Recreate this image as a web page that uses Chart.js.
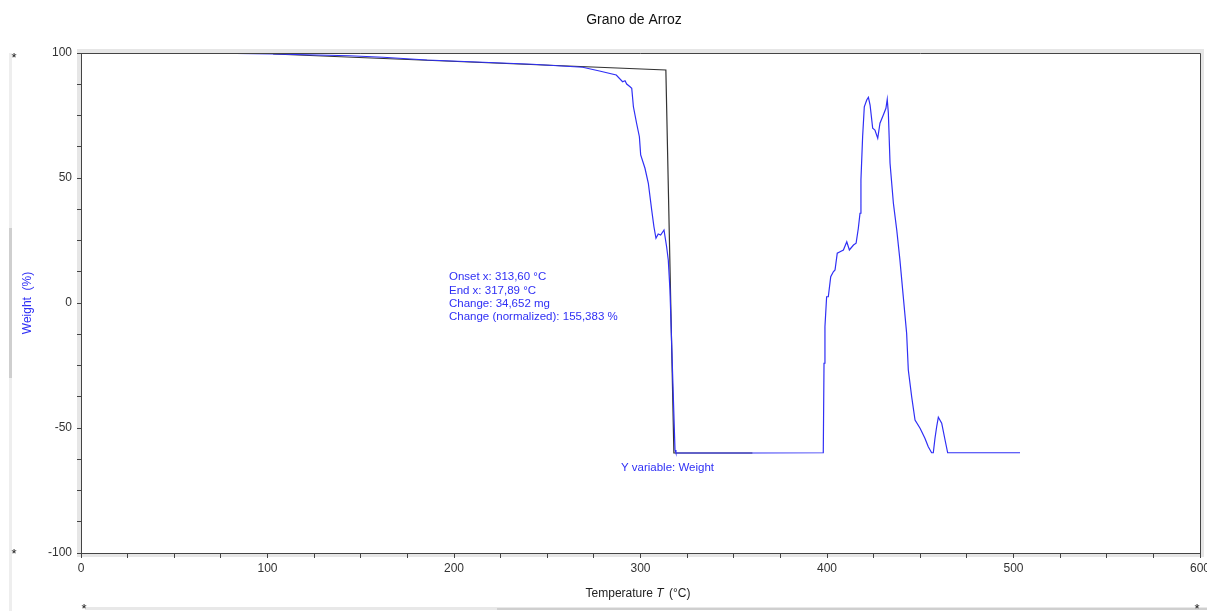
<!DOCTYPE html>
<html>
<head>
<meta charset="utf-8">
<script src="https://cdn.jsdelivr.net/npm/chart.js@4/dist/chart.umd.min.js"></script>
<style>
  html, body { margin: 0; padding: 0; background: #fff; }
  #wrap { width: 1207px; height: 611px; position: relative; }
</style>
</head>
<body>
<div id="wrap"><canvas id="tgaChart"></canvas></div>
<script>
// measured weight curve (blue)
var tempC = [73, 103, 126.5, 144, 162, 185.5, 215.5, 242, 269, 278, 287, 290.4, 291.7, 292.6, 294.4, 295.3,
    296.2, 297.9, 299.4, 300.1, 302.4, 304.2, 306, 307.2, 308.3, 309.5, 310.8, 312.6, 314.0, 314.9, 315.8,
    316.2, 317.2, 318.5, 319, 360, 398.0, 398.4, 398.9, 399.8, 400.7, 402, 403.4, 404.3, 405.5, 407, 408.8,
    410.6, 412, 414.2, 415.6, 416.8, 417.7, 418.2, 419.1, 420, 421.3, 422.2, 423.1, 424.5, 425.7, 427.2,
    428.4, 430.2, 431.6, 432.3, 432.9, 433.8, 435.6, 437.4, 439.1, 440.9, 442.7, 443.6, 445.4, 447.2,
    449.9, 452.5, 454.3, 456.1, 457, 457.9, 458.8, 459.7, 461.5, 463.3, 464.7, 503.5];
var weightPct = [99.9, 99.6, 99.2, 98.9, 98.3, 97.2, 96.3, 95.5, 94.3, 92.8, 91.2, 88.5, 88.9, 87.6, 86.5, 85.9,
    78.5, 71.9, 66.5, 59.2, 53.9, 47.9, 37.2, 30.5, 25.9, 27.6, 27.2, 29.2, 22.5, 17.2, 5.2,
    -4.1, -28.1, -58.8, -60, -60, -59.9, -24.1, -9.5, 2.5, 2.5, 10.5, 12.5, 13.2, 19.9, 20.5, 21.2,
    24.5, 21.2, 23.2, 23.9, 29.9, 35.9, 49.2, 66.5, 78.5, 81.2, 82.3, 79.2, 69.9, 69.2, 65.9,
    71.9, 75.2, 77.9, 81.5, 75.9, 55.9, 39.9, 29.2, 17.2, 2.5, -12.1, -26.8, -37.5, -46.8,
    -50.1, -54.1, -57.5, -59.9, -59.9, -54.1, -49.5, -45.7, -48.1, -54.8, -59.9, -59.9];

// step analysis construction line (black)
var stepX = [103, 313.6, 317.9, 360];
var stepY = [99.6, 93.2, -60, -60];

var xTicks = { min: 0, max: 600, step: 25, labelEvery: 100 };
var yTicks = { min: -100, max: 100, step: 12.5, labelEvery: 50 };

var chartTitle = "Grano de Arroz";
var yTitle = "Weight  (%)";
var stepNotes = ["Onset x: 313,60 \u00b0C", "End x: 317,89 \u00b0C", "Change: 34,652 mg", "Change (normalized): 155,383 %"];
var yVarNote = "Y variable: Weight";

var FONT = "'Liberation Sans', Arial, sans-serif";
var BLUE = "#2f2ff5";

function toPoints(xs, ys) {
    var pts = [];
    for (var i = 0; i < xs.length; i++) pts.push({ x: xs[i], y: ys[i] });
    return pts;
}

var decorPlugin = {
    id: 'decor',
    beforeDraw: function (chart) {
        var ctx = chart.ctx, a = chart.chartArea;
        ctx.save();
        // light frame shadow around plot
        ctx.strokeStyle = '#e6e6e6';
        ctx.lineWidth = 4;
        ctx.strokeRect(a.left - 2, a.top - 2, a.right - a.left + 4, a.bottom - a.top + 4);
        // side + bottom window lines
        ctx.fillStyle = '#eeeeee';
        ctx.fillRect(9, 53, 3, 558);
        ctx.fillStyle = '#cfcfcf';
        ctx.fillRect(9, 228, 3, 150);
        ctx.fillStyle = '#e8e8e8';
        ctx.fillRect(85, 607, 1122, 3);
        ctx.fillStyle = '#cfcfcf';
        ctx.fillRect(497, 608, 710, 2);
        ctx.restore();
    },
    afterDraw: function (chart) {
        var ctx = chart.ctx, a = chart.chartArea;
        var xs = chart.scales.x, ys = chart.scales.y;
        ctx.save();
        // top + right frame lines
        ctx.strokeStyle = '#444';
        ctx.lineWidth = 1;
        ctx.beginPath();
        ctx.moveTo(a.left, a.top + 0.5);
        ctx.lineTo(a.right + 0.5, a.top + 0.5);
        ctx.lineTo(a.right + 0.5, a.bottom);
        ctx.stroke();

        // title
        ctx.fillStyle = '#111';
        ctx.font = '14px ' + FONT;
        ctx.textAlign = 'center';
        ctx.textBaseline = 'middle';
        ctx.fillText(chartTitle, 634, 20);

        // x axis title with italic symbol
        ctx.fillStyle = '#222';
        var p1 = 'Temperature ', p2 = 'T', p3 = ' (\u00b0C)';
        ctx.font = '12px ' + FONT;
        var w1 = ctx.measureText(p1).width, w3 = ctx.measureText(p3).width;
        ctx.font = 'italic 12px ' + FONT;
        var w2 = ctx.measureText(p2).width + 2;
        var x0 = 638 - (w1 + w2 + w3) / 2;
        ctx.textAlign = 'left';
        ctx.font = '12px ' + FONT;
        ctx.fillText(p1, x0, 594);
        ctx.font = 'italic 12px ' + FONT;
        ctx.fillText(p2, x0 + w1, 594);
        ctx.font = '12px ' + FONT;
        ctx.fillText(p3, x0 + w1 + w2, 594);

        // step analysis notes
        ctx.fillStyle = BLUE;
        ctx.font = '11.5px ' + FONT;
        var nx = xs.getPixelForValue(197.3), ny = ys.getPixelForValue(10.4);
        for (var i = 0; i < stepNotes.length; i++) {
            ctx.fillText(stepNotes[i], nx, ny + i * 13.4);
        }
        ctx.fillText(yVarNote, xs.getPixelForValue(289.5), ys.getPixelForValue(-65.8));

        // corner markers
        ctx.fillStyle = '#111';
        ctx.font = '13px ' + FONT;
        ctx.textAlign = 'center';
        ctx.fillText('*', 14, 58);
        ctx.fillText('*', 14, 554);
        ctx.fillText('*', 84, 609);
        ctx.fillText('*', 1197, 609);
        ctx.restore();
    }
};

new Chart(document.getElementById('tgaChart'), {
    type: 'scatter',
    data: {
        datasets: [{
            label: 'Weight',
            data: toPoints(tempC, weightPct),
            showLine: true,
            borderColor: BLUE,
            borderWidth: 1.2,
            pointRadius: 0,
            tension: 0
        }, {
            label: 'Step',
            data: toPoints(stepX, stepY),
            showLine: true,
            borderColor: '#333',
            borderWidth: 1.2,
            pointRadius: 0,
            tension: 0
        }]
    },
    options: {
        responsive: true,
        maintainAspectRatio: false,
        animation: false,
        events: [],
        layout: { padding: { top: 53, right: 7, left: 0, bottom: 0 } },
        plugins: {
            legend: { display: false },
            title: { display: false },
            tooltip: { enabled: false }
        },
        scales: {
            x: {
                type: 'linear',
                min: xTicks.min,
                max: xTicks.max,
                border: { color: '#444', width: 1 },
                grid: { drawOnChartArea: false, tickLength: 5, color: '#444' },
                ticks: {
                    stepSize: xTicks.step,
                    autoSkip: false,
                    maxRotation: 0,
                    padding: 3,
                    color: '#333',
                    font: { family: FONT, size: 12 },
                    callback: function (v) { return v % xTicks.labelEvery === 0 ? String(v) : ''; }
                },
                afterFit: function (s) { s.height = 58; s.paddingLeft = 0; s.paddingRight = 0; }
            },
            y: {
                min: yTicks.min,
                max: yTicks.max,
                border: { color: '#444', width: 1 },
                grid: { drawOnChartArea: false, tickLength: 4, color: '#444' },
                ticks: {
                    stepSize: yTicks.step,
                    autoSkip: false,
                    padding: 5,
                    color: '#333',
                    font: { family: FONT, size: 12 },
                    callback: function (v) { return v % yTicks.labelEvery === 0 ? String(v) : ''; }
                },
                title: {
                    display: true,
                    text: yTitle,
                    color: BLUE,
                    font: { family: FONT, size: 12 },
                    padding: { top: 20, bottom: 0 }
                },
                afterFit: function (s) { s.width = 81; s.paddingTop = 0; s.paddingBottom = 0; }
            }
        }
    },
    plugins: [decorPlugin]
});
</script>
</body>
</html>
